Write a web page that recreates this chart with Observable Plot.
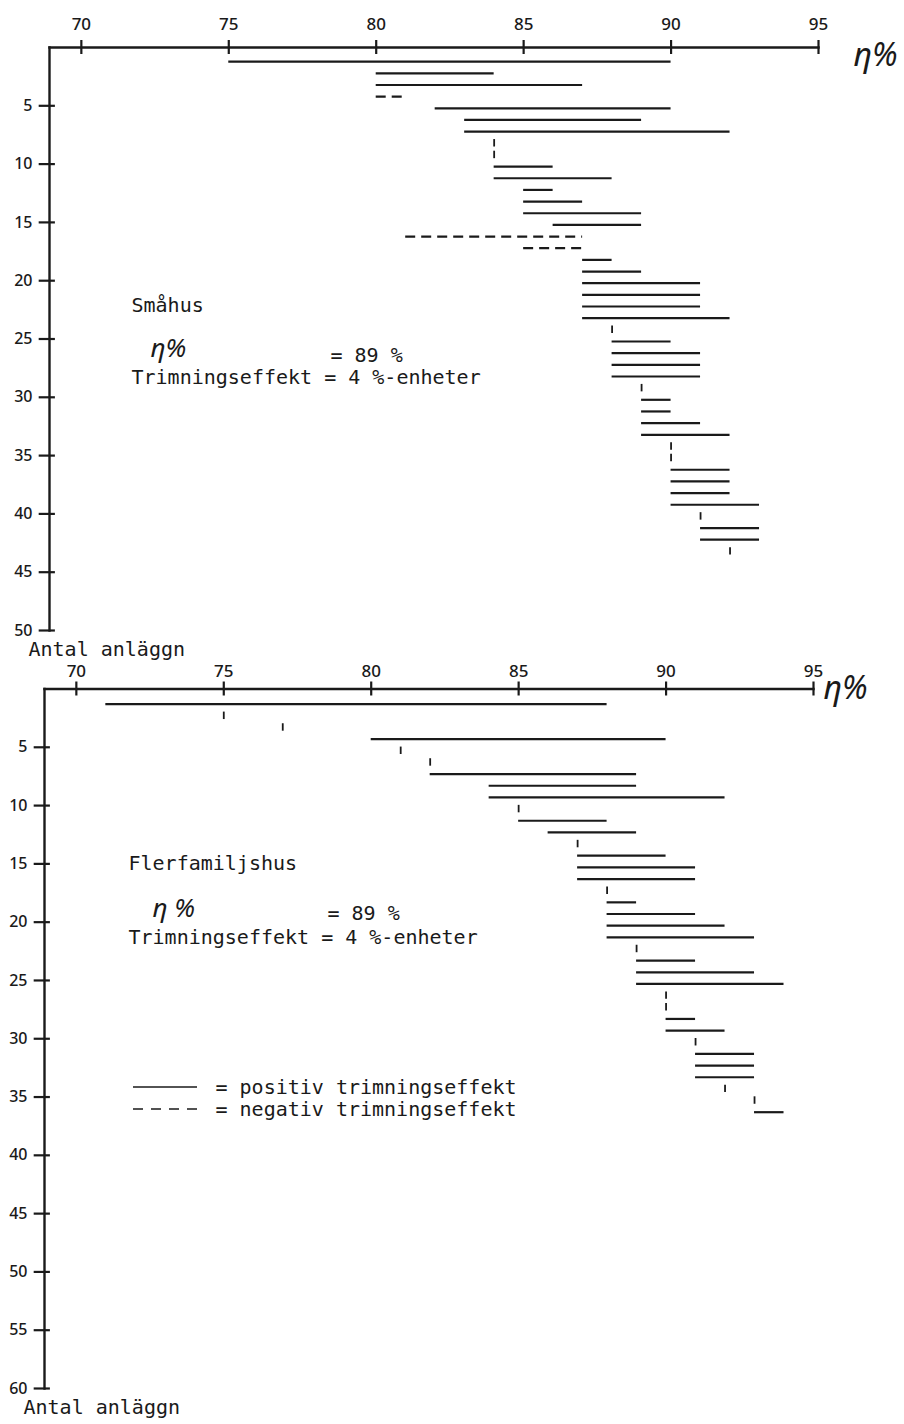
<!DOCTYPE html>
<html>
<head>
<meta charset="utf-8">
<script src="https://cdn.jsdelivr.net/npm/d3@7"></script>
<script src="https://cdn.jsdelivr.net/npm/@observablehq/plot@0.6"></script>
<style>
  html, body { margin: 0; padding: 0; background: #ffffff; }
  #chart svg { display: block; }
  #chart svg.lower { margin-top: -30px; position: relative; }
</style>
</head>
<body>
<div id="chart"></div>
<script>
// ---------- data ----------
const xTicks = [70, 75, 80, 85, 90, 95];
const smahusYTicks = [5, 10, 15, 20, 25, 30, 35, 40, 45, 50];
const flerYTicks = [5, 10, 15, 20, 25, 30, 35, 40, 45, 50, 55, 60];

// Småhus: efficiency (η %) before and after trimming, one row per plant
const smahusBefore = [75, 80, 80, 81, 82, 83, 83, 84, 84, 84, 84, 85, 85, 85, 86, 87, 87, 87, 87, 87, 87, 87,
                      87, 88, 88, 88, 88, 88, 89, 89, 89, 89, 89, 90, 90, 90, 90, 90, 90, 91, 91, 91, 92];
const smahusAfter  = [90, 84, 87, 80, 90, 89, 92, 84, 84, 86, 88, 86, 87, 89, 89, 81, 85, 88, 89, 91, 91, 91,
                      92, 88, 90, 91, 91, 91, 89, 90, 90, 91, 92, 90, 90, 92, 92, 92, 93, 91, 93, 93, 92];

// Flerfamiljshus
const flerBefore = [71, 75, 77, 80, 81, 82, 82, 84, 84, 85, 85, 86, 87, 87, 87, 87, 88, 88, 88, 88, 88, 89,
                    89, 89, 89, 90, 90, 90, 90, 91, 91, 91, 91, 92, 93, 93];
const flerAfter  = [88, 75, 77, 90, 81, 82, 89, 89, 92, 85, 88, 89, 87, 90, 91, 91, 88, 89, 91, 92, 93, 89,
                    91, 93, 94, 90, 90, 91, 92, 91, 93, 93, 93, 92, 93, 94];

const smahusTitle = "Småhus";
const flerTitle = "Flerfamiljshus";
const etaLabel = "η%";
const etaLabel2 = "η %";
const meanText = "= 89 %";
const trimText = "Trimningseffekt = 4 %-enheter";
const yAxisTitle = "Antal anläggn";
const legendPos = "= positiv trimningseffekt";
const legendNeg = "= negativ trimningseffekt";

// ---------- style ----------
const ink = "#1a1a1a";
const typeFont = "'DejaVu Sans Mono', 'Liberation Mono', monospace";
const handFont = "'Noto Sans', 'DejaVu Sans', sans-serif";
const xDomain = [68.92, 95];

function rows(before, after) {
  return before.map((b, i) => ({row: i + 1, before: b, after: after[i],
                                lo: Math.min(b, after[i]), hi: Math.max(b, after[i])}));
}

function typed(text, anchor, dx, dy, size = 20) {
  return Plot.text([text], {text: d => d, frameAnchor: anchor, dx, dy, textAnchor: "start",
    lineAnchor: "middle", fontFamily: typeFont, fontSize: size, fill: ink, letterSpacing: "0.35px"});
}
function hand(text, anchor, dx, dy, size) {
  return Plot.text([text], {text: d => d, frameAnchor: anchor, dx, dy, textAnchor: "start",
    lineAnchor: "middle", fontFamily: handFont, fontSize: size, fontStyle: "italic", fill: ink});
}

function panel(opts) {
  const data = rows(opts.before, opts.after);
  const pos = data.filter(d => d.after > d.before);
  const neg = data.filter(d => d.after < d.before);
  const zero = data.filter(d => d.after === d.before);
  const yMax = opts.yTicks[opts.yTicks.length - 1];
  const marks = [
    Plot.frame({anchor: "top", stroke: ink, strokeWidth: 2.4}),
    Plot.frame({anchor: "left", stroke: ink, strokeWidth: 2.4}),
    Plot.ruleX(xTicks, {x: d => d, y1: -0.6, y2: 0.6, stroke: ink, strokeWidth: 2.2}),
    Plot.ruleY(opts.yTicks, {y: d => d, x1: xDomain[0] - 0.35, x2: xDomain[0] + 0.2, stroke: ink, strokeWidth: 2.2}),
    Plot.axisX({anchor: "top", ticks: xTicks, tickSize: 0, tickPadding: opts.xPad, label: null,
      fontSize: 17, fontWeight: 500, fontFamily: handFont, fill: ink}),
    Plot.axisY({anchor: "left", ticks: opts.yTicks, tickSize: 0, tickPadding: 17, label: null,
      fontSize: 16, fontWeight: 500, fontFamily: handFont, fill: ink}),
    Plot.ruleY(pos, {y: "row", x1: "lo", x2: "hi", dy: opts.segDy, stroke: ink, strokeWidth: 2.2}),
    Plot.ruleY(neg, {y: "row", x1: "lo", x2: "hi", dy: opts.segDy, stroke: ink, strokeWidth: 2.2,
      strokeDasharray: "10,6"}),
    Plot.ruleX(zero, {x: "before", y1: d => d.row - 0.32, y2: d => d.row + 0.32, dy: opts.segDy,
      stroke: ink, strokeWidth: 1.8}),
    hand(etaLabel, "top-right", opts.etaDx, opts.etaDy, 32),
    typed(yAxisTitle, "bottom-left", -21, opts.titleDy)
  ].concat(opts.extra);
  const svg = Plot.plot({
    width: 904,
    height: opts.height,
    marginLeft: opts.marginLeft,
    marginRight: 904 - opts.marginLeft - 769,
    marginTop: opts.marginTop,
    marginBottom: opts.marginBottom,
    style: {background: opts.background, color: ink, fontFamily: handFont, overflow: "visible"},
    x: {domain: xDomain},
    y: {domain: [0, yMax], reverse: true},
    marks
  });
  if (opts.className) svg.classList.add(opts.className);
  return svg;
}

function legendMark(index, scales, values, dims) {
  const g = d3.create("svg:g").attr("stroke", ink).attr("stroke-width", 1.5).attr("fill", "none");
  const x0 = dims.marginLeft + 89, x1 = dims.marginLeft + 153;
  const y0 = dims.marginTop + 398.5, y1 = dims.marginTop + 420.5;
  g.append("line").attr("x1", x0).attr("x2", x1).attr("y1", y0).attr("y2", y0);
  g.append("line").attr("x1", x0).attr("x2", x1).attr("y1", y1).attr("y2", y1)
    .attr("stroke-dasharray", "10,8");
  return g.node();
}

const topPanel = panel({
  before: smahusBefore, after: smahusAfter, yTicks: smahusYTicks,
  height: 664, marginLeft: 49, marginTop: 47, marginBottom: 34, background: "#ffffff",
  xPad: 18, segDy: 2.5, etaDx: 35, etaDy: 8, titleDy: 19,
  extra: [
    typed(smahusTitle, "top-left", 82, 258),
    hand(etaLabel, "top-left", 101, 301, 26),
    typed(meanText, "top-left", 281, 308),
    typed(trimText, "top-left", 82, 330)
  ]
});

const bottomPanel = panel({
  before: flerBefore, after: flerAfter, yTicks: flerYTicks,
  height: 790, marginLeft: 44, marginTop: 54.5, marginBottom: 36, background: "transparent",
  className: "lower",
  xPad: 12, segDy: 3.5, etaDx: 10, etaDy: 0, titleDy: 19,
  extra: [
    typed(flerTitle, "top-left", 84, 174.5),
    hand(etaLabel2, "top-left", 108, 219.5, 26),
    typed(meanText, "top-left", 283, 224.5),
    typed(trimText, "top-left", 84, 249),
    legendMark,
    typed(legendPos, "top-left", 171, 398.5),
    typed(legendNeg, "top-left", 171, 420.5)
  ]
});

const root = document.getElementById("chart");
root.appendChild(topPanel);
root.appendChild(bottomPanel);
</script>
</body>
</html>
